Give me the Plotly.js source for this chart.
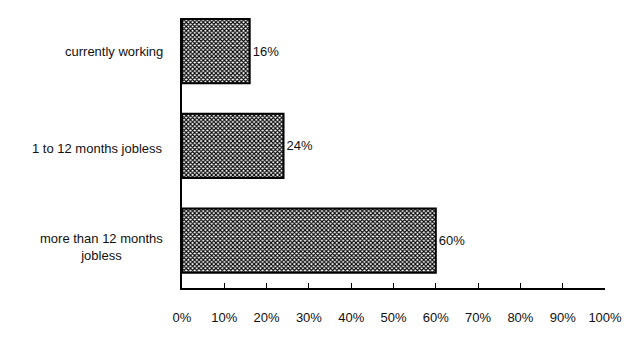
<!DOCTYPE html>
<html><head><meta charset="utf-8">
<script src="https://cdn.plot.ly/plotly-3.0.1.min.js"></script>
<style>body{margin:0;background:#fff}#c{width:640px;height:361px}</style>
</head><body><div id="c"></div>
<script>
var categories = ["currently working", "1 to 12 months jobless", "more than 12 months<br>jobless"];
var values = [16, 24, 60];
var valueLabels = ["16%", "24%", "60%"];
var tickVals = [0,10,20,30,40,50,60,70,80,90,100];
var tickText = ["0%","10%","20%","30%","40%","50%","60%","70%","80%","90%","100%"];
var labelShift = [0, 0.03, 0.07];

var trace = {
  type: 'bar', orientation: 'h',
  y: [0,1,2], x: values,
  text: valueLabels, textposition: 'outside', cliponaxis: false,
  textfont: {family: 'Liberation Sans, Arial', size: 13, color: '#111'},
  marker: {color: '#fff', line: {color: '#000', width: 2},
    pattern: {shape: 'x', fgcolor: '#000', bgcolor: '#fff', size: 3, solidity: 0.6}},
  hoverinfo: 'none'
};
var annotations = categories.map(function(c, i){
  return {xref: 'paper', yref: 'y', x: -0.04, y: i + labelShift[i], text: c, showarrow: false,
    xanchor: 'right', align: 'center',
    font: {family: 'Liberation Sans, Arial', size: 13, color: '#111'}};
});
var layout = {
  width: 640, height: 361,
  margin: {l: 182, r: 35, t: 18, b: 73},
  paper_bgcolor: '#fff', plot_bgcolor: '#fff',
  showlegend: false, bargap: 0.32,
  font: {family: 'Liberation Sans, Arial', size: 13, color: '#111'},
  xaxis: {range: [0, 100], tickvals: tickVals, ticktext: tickText,
    showgrid: false, zeroline: false, showline: true, linecolor: '#000', linewidth: 1.5,
    ticks: 'inside', ticklen: 5, tickcolor: '#000', ticklabelstandoff: 17,
    tickfont: {size: 13}},
  yaxis: {range: [2.5, -0.35], showticklabels: false, showgrid: false, zeroline: false,
    showline: true, linecolor: '#000', linewidth: 2, ticks: ''},
  annotations: annotations
};
Plotly.newPlot('c', [trace], layout, {staticPlot: true, displayModeBar: false});
</script></body></html>
